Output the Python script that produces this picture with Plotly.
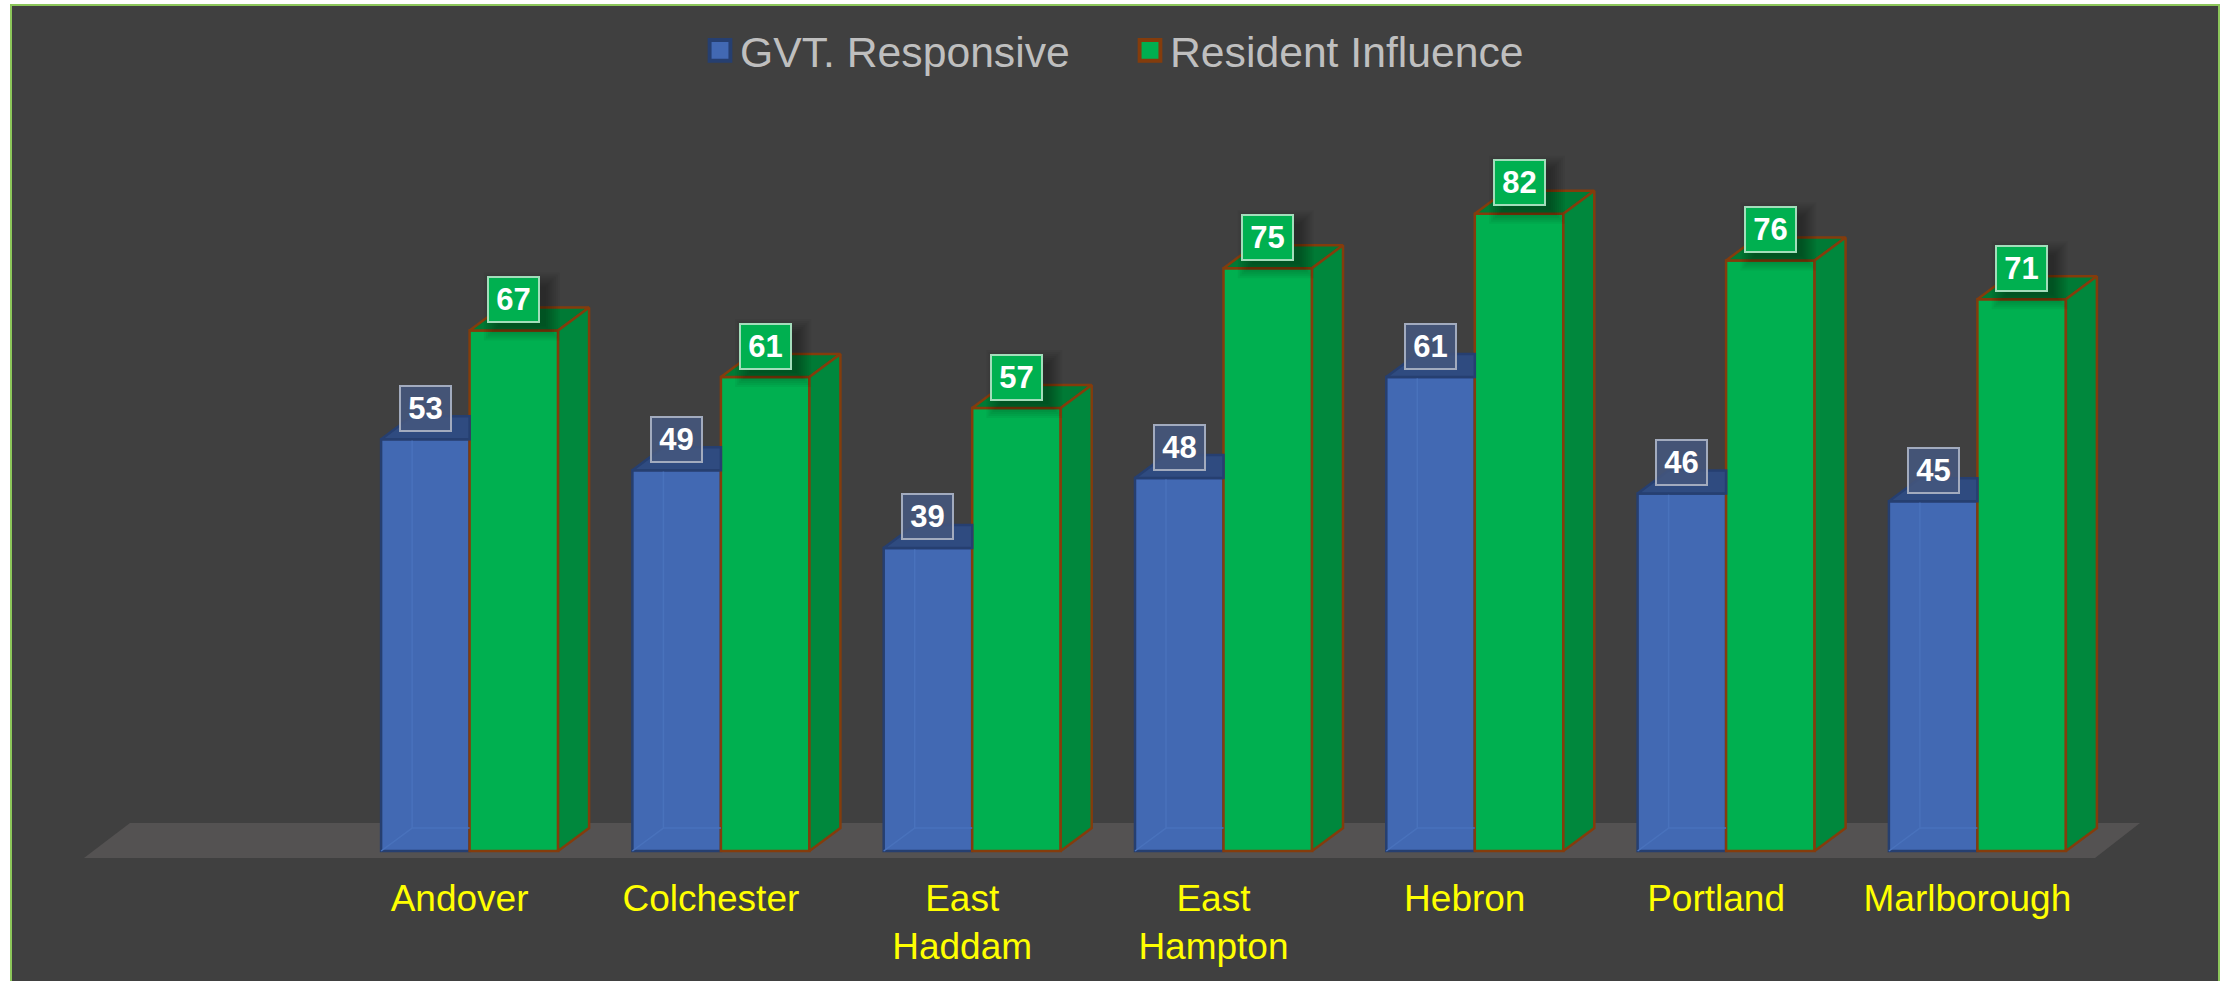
import plotly.graph_objects as go

categories = ["Andover", "Colchester", "East<br>Haddam", "East<br>Hampton", "Hebron", "Portland", "Marlborough"]
gvt_responsive = [53, 49, 39, 48, 61, 46, 45]
resident_influence = [67, 61, 57, 75, 82, 76, 71]
series_names = ["GVT. Responsive", "Resident Influence"]

W, H = 2231, 981
FONT = "Liberation Sans, Arial, sans-serif"
BG = "#404040"
BLUE, BLUE_EDGE, BLUE_TOP = "#4269B3", "#263F70", "#2F4B80"
GREEN, GREEN_EDGE, GREEN_SIDE, GREEN_TOP = "#00B050", "#843C0C", "#00883D", "#007A35"

# pixel scale of the axes
PX_X, PX_Y = 251.3, 7.77
L, R, T, B = 11, 12, 5, 123
ZERO_PX_X, ZERO_PX_Y = 469.6, 851.0
x_range = [(L - ZERO_PX_X) / PX_X, (W - R - ZERO_PX_X) / PX_X]
y_range = [-(H - B - ZERO_PX_Y) / PX_Y, (ZERO_PX_Y - T) / PX_Y]

BAR_W = 88.5 / PX_X
DX, DY = 31 / PX_X, 23 / PX_Y
pos = list(range(len(categories)))

fig = go.Figure()
fig.add_bar(x=pos, y=gvt_responsive, name=series_names[0], showlegend=False,
            marker=dict(color=BLUE, line=dict(color=BLUE_EDGE, width=2.5)))
fig.add_bar(x=pos, y=resident_influence, name=series_names[1], showlegend=False,
            marker=dict(color=GREEN, line=dict(color=GREEN_EDGE, width=2.5)))


def poly_trace(points, fill, line, width=2.5):
    xs, ys = [], []
    for p in points:
        xs += [q[0] for q in p] + [p[0][0], None]
        ys += [q[1] for q in p] + [p[0][1], None]
    fig.add_scatter(x=xs, y=ys, mode="lines", fill="toself", fillcolor=fill,
                    line=dict(color=line, width=width), hoverinfo="skip", showlegend=False)


# faint inner edges seen through the blue bars
xs, ys = [], []
for p, v in zip(pos, gvt_responsive):
    l, r = p - BAR_W, p
    xs += [l, l + DX, l + DX, None, l + DX, r, None]
    ys += [0, DY, v, None, DY, DY, None]
fig.add_scatter(x=xs, y=ys, mode="lines", line=dict(color="#4972BC", width=1.5),
                hoverinfo="skip", showlegend=False)

# blue top faces, cut at the green bar
poly_trace([[(p - BAR_W, v), (p - BAR_W + DX, v + DY), (p, v + DY), (p, v)]
            for p, v in zip(pos, gvt_responsive)], BLUE_TOP, BLUE_EDGE)
# green top faces and side faces
poly_trace([[(p, v), (p + DX, v + DY), (p + BAR_W + DX, v + DY), (p + BAR_W, v)]
            for p, v in zip(pos, resident_influence)], GREEN_TOP, GREEN_EDGE)
poly_trace([[(p + BAR_W, 0), (p + BAR_W + DX, DY), (p + BAR_W + DX, v + DY), (p + BAR_W, v)]
            for p, v in zip(pos, resident_influence)], GREEN_SIDE, GREEN_EDGE)

# legend entries
for name, col, edge in [(series_names[0], BLUE, BLUE_EDGE), (series_names[1], GREEN, GREEN_EDGE)]:
    fig.add_scatter(x=[None], y=[None], mode="markers", name=name,
                    marker=dict(symbol="square", size=16, color=col, line=dict(color=edge, width=3)))

shapes = [
    # chart frame
    dict(type="rect", xref="paper", yref="paper", x0=0, x1=1, y0=-0.3, y1=1, layer="below",
         fillcolor=BG, line=dict(color="#8CC65A", width=2)),
    # floor
    dict(type="path", xref="paper", yref="paper", layer="below", fillcolor="#545252", line=dict(width=0),
         path="M {:.5f} {:.5f} L {:.5f} {:.5f} L {:.5f} {:.5f} L {:.5f} {:.5f} Z".format(
             (84 - L) / (W - L - R), 0.0,
             (130 - L) / (W - L - R), 35 / (H - T - B),
             (2140 - L) / (W - L - R), 35 / (H - T - B),
             (2095 - L) / (W - L - R), 0.0)),
]
# soft shadow behind the green labels
for p, v in zip(pos, resident_influence):
    cx = p + BAR_W / 2
    for grow in (10, 8, 6, 4, 2, 0, -2, -4):
        shapes.append(dict(type="rect", xref="x", yref="y", layer="above",
                           x0=cx + (-20 - grow) / PX_X, x1=cx + (36 + grow) / PX_X,
                           y0=v + (0 - grow) / PX_Y, y1=v + (48 + grow) / PX_Y,
                           fillcolor="rgba(0,0,0,0.045)", line=dict(width=0)))

annotations = []
for p, v in zip(pos, gvt_responsive):
    annotations.append(dict(x=p - BAR_W / 2, y=v, yshift=31, text=f"<b>{v}</b>", showarrow=False,
                            xref="x", yref="y", width=49, height=43, align="center", valign="middle",
                            bgcolor="rgba(68,86,125,0.88)", bordercolor="#A2ABBE", borderwidth=2,
                            borderpad=0, font=dict(family=FONT, size=31, color="white")))
for p, v in zip(pos, resident_influence):
    annotations.append(dict(x=p + BAR_W / 2, y=v, yshift=31, text=f"<b>{v}</b>", showarrow=False,
                            xref="x", yref="y", width=49, height=43, align="center", valign="middle",
                            bgcolor=GREEN, bordercolor="#A3DDBB", borderwidth=2,
                            borderpad=0, font=dict(family=FONT, size=31, color="white")))

fig.update_layout(
    width=W, height=H, autosize=False,
    margin=dict(l=L, r=R, t=T, b=B, pad=0),
    paper_bgcolor="white", plot_bgcolor="rgba(0,0,0,0)",
    barmode="group", bargap=1 - 2 * BAR_W, bargroupgap=0,
    font=dict(family=FONT),
    xaxis=dict(range=x_range, tickmode="array", tickvals=[p - 0.04 for p in pos], ticktext=categories,
               showgrid=False, zeroline=False, showline=False, ticks="", ticklabelstandoff=15,
               tickfont=dict(family=FONT, size=37, color="#FFFF00")),
    yaxis=dict(range=y_range, visible=False, showgrid=False, zeroline=False),
    legend=dict(orientation="h", x=(700 - L) / (W - L - R), xanchor="left", y=0.987, yanchor="top",
                bgcolor="rgba(0,0,0,0)", font=dict(family=FONT, size=42.7, color="#BFBFBF"),
                entrywidth=385, entrywidthmode="pixels", itemclick=False, itemdoubleclick=False),
    shapes=shapes, annotations=annotations, showlegend=True,
)

post = """document.body.style.margin='0';document.body.style.overflow='hidden';
document.querySelectorAll('.legend .legendpoints path').forEach(function(n){
  n.setAttribute('transform',(n.getAttribute('transform')||'')+' scale(1.3)');});"""
fig.write_html("out.html", post_script=post, config=dict(displayModeBar=False))
